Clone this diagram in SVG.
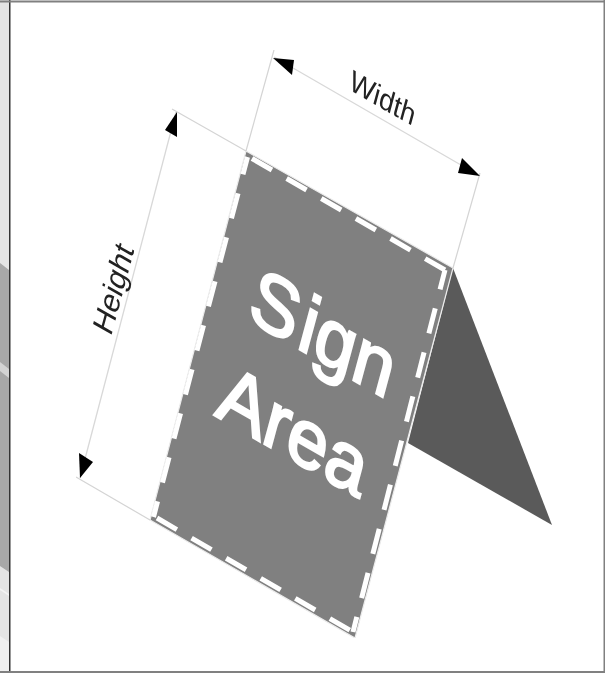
<svg xmlns="http://www.w3.org/2000/svg" width="605" height="673" viewBox="0 0 605 673">
<style>
.ext{fill:none;stroke:#d4d4d4;stroke-width:1.2}
.dim{fill:none;stroke:#d8d8d8;stroke-width:1.3}
.head{fill:#000}
.dash{fill:none;stroke:#fff;stroke-width:5}
.lbl{font-family:"Liberation Sans",Arial,sans-serif;fill:#222}
.big{font-family:"Liberation Sans",Arial,sans-serif;font-size:79px;fill:#fff;stroke:#fff;stroke-width:2.500}
</style>
<defs><filter id="soft" x="0" y="0" width="100%" height="100%"><feGaussianBlur stdDeviation="0.6"/></filter></defs>
<rect width="605" height="673" fill="#fff"/>
<g id="left-strip">
<rect x="0" y="0" width="9" height="673" fill="#e4e4e4"/>
<polygon points="0,263 9,270 9,572 0,566" fill="#a8a8a8"/>
<polygon points="0,362 9,369 9,378 0,371" fill="#d4d4d4"/>
<polygon points="0,588 9,594 9,596 0,590" fill="#f4f4f4"/>
<polygon points="0,636 9,642 9,673 0,673" fill="#f0f0f0"/>
</g>
<rect x="9" y="0" width="1.500" height="673" fill="#333"/>
<rect x="0" y="0.500" width="605" height="2" fill="#808080"/>
<rect x="0" y="671" width="605" height="2" fill="#808080"/>
<rect x="603.500" y="0" width="1.500" height="673" fill="#808080"/>
<g filter="url(#soft)">
<g id="back-panel"><polygon points="453,268 552,525 408,443" fill="#5a5a5a"/></g>
<g id="sign-panel">
<polygon points="246,151 453,268 355,638 150,520" fill="#808080" stroke="#ececec" stroke-width="1.200"/>
<line class="dash" x1="252" y1="158.500" x2="445" y2="270" stroke-dasharray="23 17"/>
<line class="dash" x1="445" y1="270" x2="353" y2="632" stroke-dasharray="26 19.500" stroke-dashoffset="6"/>
<line class="dash" x1="247.500" y1="157" x2="153.500" y2="517" stroke-dasharray="26 19.500" stroke-dashoffset="8"/>
<line class="dash" x1="157" y1="518" x2="353" y2="632" stroke-dasharray="23 17"/>
<text class="big" dx="-7 4" transform="matrix(0.87 0.5 -0.26 0.966 252 322)">Sign</text>
<text class="big" transform="matrix(0.87 0.5 -0.26 0.966 214 415)">Area</text>
</g>
<g id="connectors">
<line class="ext" x1="246" y1="151" x2="274" y2="50"/>
<line class="ext" x1="453" y1="268" x2="480" y2="173"/>
<line class="ext" x1="246" y1="151" x2="172" y2="109"/>
<line class="ext" x1="150" y1="520" x2="76" y2="477"/>
<line class="dim" x1="274" y1="57" x2="480" y2="176"/>
<line class="dim" x1="176" y1="112" x2="80" y2="478"/>
<polygon class="head" points="273,58 294,60 292,75"/>
<polygon class="head" points="480,176 462,158 458,173"/>
<polygon class="head" points="177,112 165,130 177,137"/>
<polygon class="head" points="80,478 79,453 93,462"/>
</g>
<g id="labels">
<text class="lbl" font-size="29" transform="matrix(0.87 0.5 -0.26 0.966 348 89)">Width</text>
<text class="lbl" font-size="31" transform="matrix(0.26 -0.966 0.87 0.5 111 337)">Height</text>
</g>
</g>
</svg>
